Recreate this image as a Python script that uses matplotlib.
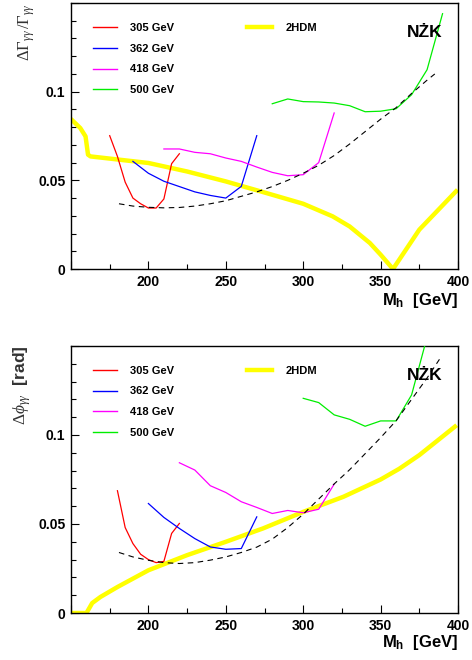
import matplotlib
matplotlib.use("Agg")
import matplotlib.pyplot as plt
from matplotlib.lines import Line2D
from matplotlib.ticker import MultipleLocator, FuncFormatter

plt.rcParams['font.family'] = 'Liberation Sans'
plt.rcParams['mathtext.fontset'] = 'custom'
plt.rcParams['mathtext.rm'] = 'Liberation Serif'
plt.rcParams['mathtext.it'] = 'Liberation Serif:italic'
plt.rcParams['mathtext.bf'] = 'Liberation Sans:bold'

# ---- top panel: Delta Gamma / Gamma ----
g305_m = [175, 180, 185, 190, 195, 200, 205, 210, 215, 220]
g305_v = [0.0752, 0.0635, 0.049, 0.040, 0.0368, 0.0344, 0.0344, 0.0395, 0.0594, 0.065]
g362_m = [190, 200, 210, 220, 230, 240, 250, 260, 270]
g362_v = [0.0607, 0.054, 0.0495, 0.0465, 0.0435, 0.0415, 0.040, 0.0466, 0.0752]
g418_m = [210, 220, 230, 240, 250, 260, 270, 280, 290, 300, 310, 320]
g418_v = [0.0677, 0.0677, 0.0658, 0.065, 0.0626, 0.0607, 0.0575, 0.0545, 0.0526, 0.0532, 0.060, 0.088]
g500_m = [280, 290, 300, 310, 320, 330, 340, 350, 360, 370, 380, 390]
g500_v = [0.0932, 0.0959, 0.0944, 0.0942, 0.0936, 0.0921, 0.0887, 0.089, 0.0904, 0.0983, 0.1124, 0.144]
genv_m = [181, 190, 200, 210, 220, 230, 240, 250, 260, 270, 280, 290, 300, 310, 320,
          330, 340, 350, 360, 370, 380, 385]
genv_v = [0.0368, 0.0355, 0.0348, 0.0345, 0.0347, 0.0355, 0.0368, 0.0385, 0.041, 0.0435,
          0.0465, 0.050, 0.054, 0.0585, 0.064, 0.0705, 0.0775, 0.0845, 0.091, 0.099, 0.1065, 0.110]
g2hdm_m = [150.9, 156, 159.4, 161, 162.6, 200, 225, 250, 274, 300, 319, 330, 343, 350, 358, 375, 398.7]
g2hdm_v = [0.0838, 0.0795, 0.0748, 0.0645, 0.0635, 0.0598, 0.055, 0.0494, 0.0434, 0.0368,
           0.0297, 0.024, 0.0147, 0.0081, 0.0, 0.0222, 0.0438]

# ---- bottom panel: Delta phi ----
p305_m = [180, 185, 190, 195, 200, 205, 210, 215, 220]
p305_v = [0.0687, 0.048, 0.039, 0.033, 0.030, 0.0283, 0.029, 0.0447, 0.0503]
p362_m = [200, 210, 220, 230, 240, 250, 260, 270]
p362_v = [0.0615, 0.0537, 0.0475, 0.0418, 0.0371, 0.0358, 0.0362, 0.054]
p418_m = [220, 230, 240, 250, 260, 270, 280, 290, 300, 310, 320]
p418_v = [0.0844, 0.0803, 0.0715, 0.0677, 0.0625, 0.0593, 0.0559, 0.0576, 0.0563, 0.0583, 0.0724]
p500_m = [300, 310, 320, 330, 340, 350, 360, 370, 380]
p500_v = [0.1206, 0.1182, 0.1113, 0.1088, 0.1049, 0.1079, 0.1079, 0.1225, 0.155]
penv_m = [181, 190, 200, 210, 220, 230, 240, 250, 260, 270, 280, 290, 300, 310, 320,
          330, 340, 350, 360, 370, 380, 388]
penv_v = [0.034, 0.0315, 0.0296, 0.0283, 0.0278, 0.0283, 0.0297, 0.0315, 0.034, 0.037,
          0.0415, 0.048, 0.0555, 0.064, 0.0725, 0.0805, 0.0895, 0.0985, 0.108, 0.12, 0.132, 0.1425]
p2hdm_m = [150.9, 160, 163.7, 169, 180, 200, 225, 250, 274, 300, 326, 350, 362, 375, 398]
p2hdm_v = [0.0, 0.0, 0.0056, 0.009, 0.0146, 0.024, 0.0325, 0.040, 0.0475, 0.0568, 0.0653,
           0.075, 0.081, 0.0887, 0.1047]

labels = ['305 GeV', '362 GeV', '418 GeV', '500 GeV']
colors = ['#ff0000', '#0000ff', '#ff00ff', '#00ee00']

fig = plt.figure(figsize=(4.72, 6.6), dpi=100)
ax1 = fig.add_axes([0.1504, 0.5924, 0.820, 0.403])
ax2 = fig.add_axes([0.1504, 0.0712, 0.820, 0.4046])

panels = [
    (ax1, [(g305_m, g305_v), (g362_m, g362_v), (g418_m, g418_v), (g500_m, g500_v)],
     (genv_m, genv_v), (g2hdm_m, g2hdm_v), -0.12),
    (ax2, [(p305_m, p305_v), (p362_m, p362_v), (p418_m, p418_v), (p500_m, p500_v)],
     (penv_m, penv_v), (p2hdm_m, p2hdm_v), -0.112),
]

for ax, series, env, hdm, xl_y in panels:
    ax.plot(hdm[0], hdm[1], color='#ffff00', lw=3.2, solid_joinstyle='round', zorder=2)
    for (m, v), c in zip(series, colors):
        ax.plot(m, v, color=c, lw=0.9, zorder=3)
    ax.plot(env[0], env[1], color='black', lw=0.8, ls=(0, (5, 4)), zorder=4)

    ax.set_xlim(150, 400)
    ax.set_ylim(0, 0.15)
    ax.xaxis.set_major_locator(MultipleLocator(50))
    ax.xaxis.set_minor_locator(MultipleLocator(25))
    ax.yaxis.set_major_locator(MultipleLocator(0.05))
    ax.yaxis.set_minor_locator(MultipleLocator(0.01))
    ax.yaxis.set_major_formatter(FuncFormatter(
        lambda v, p: '0' if abs(v) < 1e-9 else ('' if v > 0.12 else f'{v:g}')))
    ax.xaxis.set_major_formatter(FuncFormatter(lambda v, p: '' if v < 199 else f'{v:g}'))
    ax.tick_params(which='both', direction='in', top=False, right=False, labelsize=10, pad=4)
    ax.tick_params(which='major', length=6, width=0.8)
    ax.tick_params(which='minor', length=3.5, width=0.8)
    for lab in ax.get_xticklabels() + ax.get_yticklabels():
        lab.set_fontweight('bold')
    for s in ax.spines.values():
        s.set_linewidth(1.0)

    handles = [Line2D([], [], color=c, lw=1.0) for c in colors]
    leg1 = ax.legend(handles, labels, loc='upper left', bbox_to_anchor=(0.03, 0.964),
                     frameon=False, handlelength=2.2, handletextpad=1.2, labelspacing=0.98,
                     prop={'size': 8, 'weight': 'bold'})
    ax.add_artist(leg1)
    ax.legend([Line2D([], [], color='#ffff00', lw=3.2)], ['2HDM'], loc='upper left',
              bbox_to_anchor=(0.43, 0.964), frameon=False,
              handlelength=2.2, handletextpad=1.2, prop={'size': 8, 'weight': 'bold'})

    ax.text(1.0, xl_y, r'M$_{\mathbf{h}}$  [GeV]', transform=ax.transAxes, ha='right', va='center',
            fontsize=12, fontweight='bold')
    ax.text(0.961, 0.891, 'NŻK', transform=ax.transAxes, ha='right', va='center',
            fontsize=12.5, fontweight='bold')

ax1.text(-0.115, 1.0, r'$\Delta\Gamma_{\gamma\gamma}\,/\Gamma_{\gamma\gamma}$', transform=ax1.transAxes,
         rotation=90, ha='center', va='top', fontsize=12, color='#333333')
ax2.text(-0.125, 1.0, r'$\Delta\phi_{\gamma\gamma}$  [rad]', transform=ax2.transAxes,
         rotation=90, ha='center', va='top', fontsize=12.5, fontweight='bold', color='#333333')

fig.savefig('out.png', dpi=100)
